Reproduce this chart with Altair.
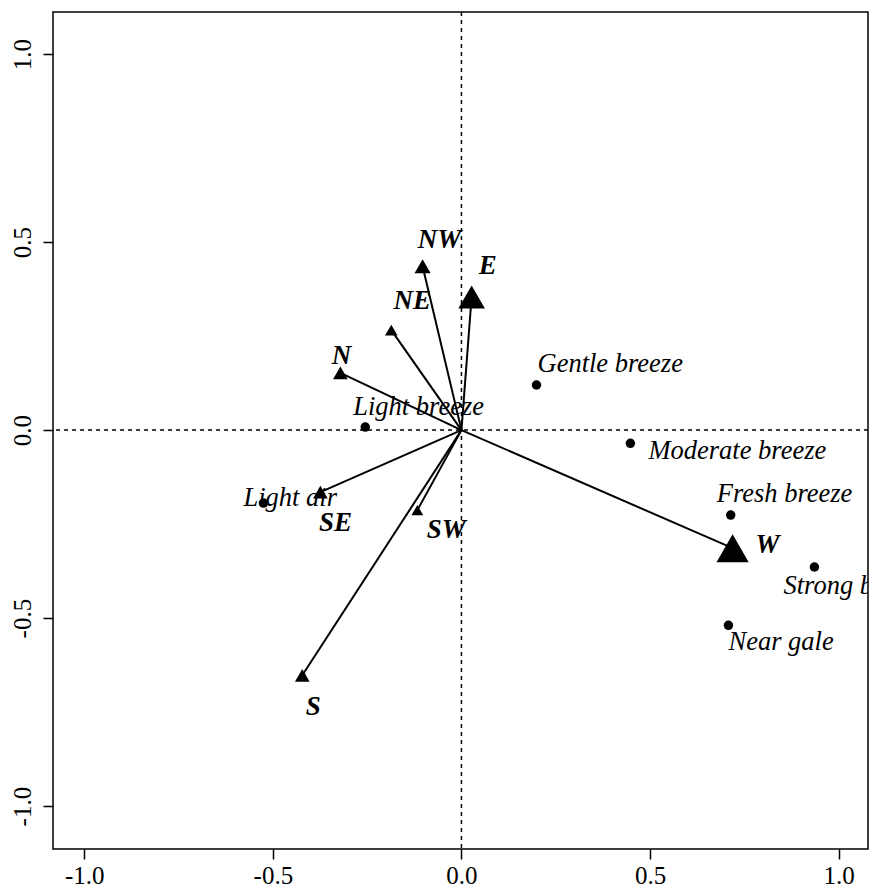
import altair as alt
import pandas as pd

# ---- data ----
directions = ["N", "NE", "E", "SE", "S", "SW", "W", "NW"]
dir_x = [-0.321, -0.186, 0.027, -0.374, -0.422, -0.117, 0.719, -0.103]
dir_y = [0.152, 0.266, 0.354, -0.165, -0.652, -0.213, -0.314, 0.436]
dir_weight = [1.05, 0.9, 1.9, 1.05, 1.05, 0.85, 2.3, 1.15]

breezes = ["Light air", "Light breeze", "Gentle breeze", "Moderate breeze",
           "Fresh breeze", "Strong breeze", "Near gale"]
breeze_x = [-0.525, -0.255, 0.199, 0.448, 0.714, 0.936, 0.708]
breeze_y = [-0.194, 0.008, 0.120, -0.035, -0.226, -0.364, -0.519]

tick_values = [-1.0, -0.5, 0.0, 0.5, 1.0]

# ---- label placement (pixel offsets, layout only) ----
dir_offsets = {"N": (1, -17), "NE": (21, -29), "E": (16, -31), "SE": (15, 31),
               "S": (11, 32), "SW": (29, 20), "W": (35, -3), "NW": (17, -26)}
breeze_offsets = {"Light air": (-20, -5), "Light breeze": (-12, -20),
                  "Gentle breeze": (1, -21), "Moderate breeze": (18, 8),
                  "Fresh breeze": (-14, -21), "Strong breeze": (-31, 19),
                  "Near gale": (0, 17)}

FONT = "Liberation Serif"

dir_df = pd.DataFrame({"name": directions, "x": dir_x, "y": dir_y,
                       "w": dir_weight, "x0": 0.0, "y0": 0.0})
br_df = pd.DataFrame({"name": breezes, "x": breeze_x, "y": breeze_y})

xs = alt.Scale(domain=[-1.083, 1.078], nice=False, zero=False)
ys = alt.Scale(domain=[-1.114, 1.112], nice=False, zero=False)

label_expr = "(datum.value < 0 ? '-' : '') + format(abs(datum.value), '.1f')"
x_axis = alt.Axis(values=tick_values, title=None, grid=False, domain=False,
                  tickSize=10, tickWidth=1.5, tickColor="black",
                  labelFont=FONT, labelFontSize=25, labelColor="black",
                  labelPadding=4, labelExpr=label_expr)
y_axis = alt.Axis(values=tick_values, title=None, grid=False, domain=False,
                  tickSize=10, tickWidth=1.5, tickColor="black",
                  labelFont=FONT, labelFontSize=25, labelColor="black",
                  labelAngle=270, labelAlign="center", labelBaseline="bottom",
                  labelPadding=8, labelExpr=label_expr)

base_dir = alt.Chart(dir_df)
base_br = alt.Chart(br_df)

axes_layer = alt.Chart(pd.DataFrame({"x": [0.0], "y": [0.0]})).mark_point(opacity=0).encode(
    x=alt.X("x:Q", scale=xs, axis=x_axis),
    y=alt.Y("y:Q", scale=ys, axis=y_axis),
)

vline = alt.Chart(pd.DataFrame({"x": [0.0]})).mark_rule(
    color="black", strokeDash=[4, 4], strokeWidth=1.5
).encode(x=alt.X("x:Q", scale=xs))
hline = alt.Chart(pd.DataFrame({"y": [0.0]})).mark_rule(
    color="black", strokeDash=[4, 4], strokeWidth=1.5
).encode(y=alt.Y("y:Q", scale=ys))

arrows = base_dir.mark_rule(color="black", strokeWidth=2).encode(
    x=alt.X("x0:Q", scale=xs), y=alt.Y("y0:Q", scale=ys),
    x2="x:Q", y2="y:Q",
)

tris = base_dir.mark_point(shape="triangle-up", filled=True, color="black",
                           opacity=1).encode(
    x=alt.X("x:Q", scale=xs), y=alt.Y("y:Q", scale=ys),
    size=alt.Size("w:Q", scale=alt.Scale(type="pow", exponent=2,
                                         domain=[0, 1], range=[0, 196]),
                  legend=None),
)

dots = base_br.mark_circle(color="black", size=90, opacity=1).encode(
    x=alt.X("x:Q", scale=xs), y=alt.Y("y:Q", scale=ys),
)

layers = [axes_layer, vline, hline, arrows, tris, dots]

for name in directions:
    dx, dy = dir_offsets[name]
    layers.append(
        base_dir.transform_filter(alt.datum.name == name).mark_text(
            font=FONT, fontSize=27, fontStyle="italic", fontWeight="bold",
            color="black", align="center", baseline="middle", dx=dx, dy=dy,
            clip=True,
        ).encode(x=alt.X("x:Q", scale=xs), y=alt.Y("y:Q", scale=ys),
                 text="name:N")
    )

for name in breezes:
    dx, dy = breeze_offsets[name]
    layers.append(
        base_br.transform_filter(alt.datum.name == name).mark_text(
            font=FONT, fontSize=26.5, fontStyle="italic",
            color="black", align="left", baseline="middle", dx=dx, dy=dy,
            clip=True,
        ).encode(x=alt.X("x:Q", scale=xs), y=alt.Y("y:Q", scale=ys),
                 text="name:N")
    )

chart = alt.layer(*layers).properties(
    width=815, height=837,
    autosize=alt.AutoSizeParams(type="none"),
    padding={"left": 53, "top": 12, "right": 4, "bottom": 39},
    background="white",
).configure_view(stroke="black", strokeWidth=1.5)

chart.save("out.html", embed_options={"renderer": "svg", "actions": False})
